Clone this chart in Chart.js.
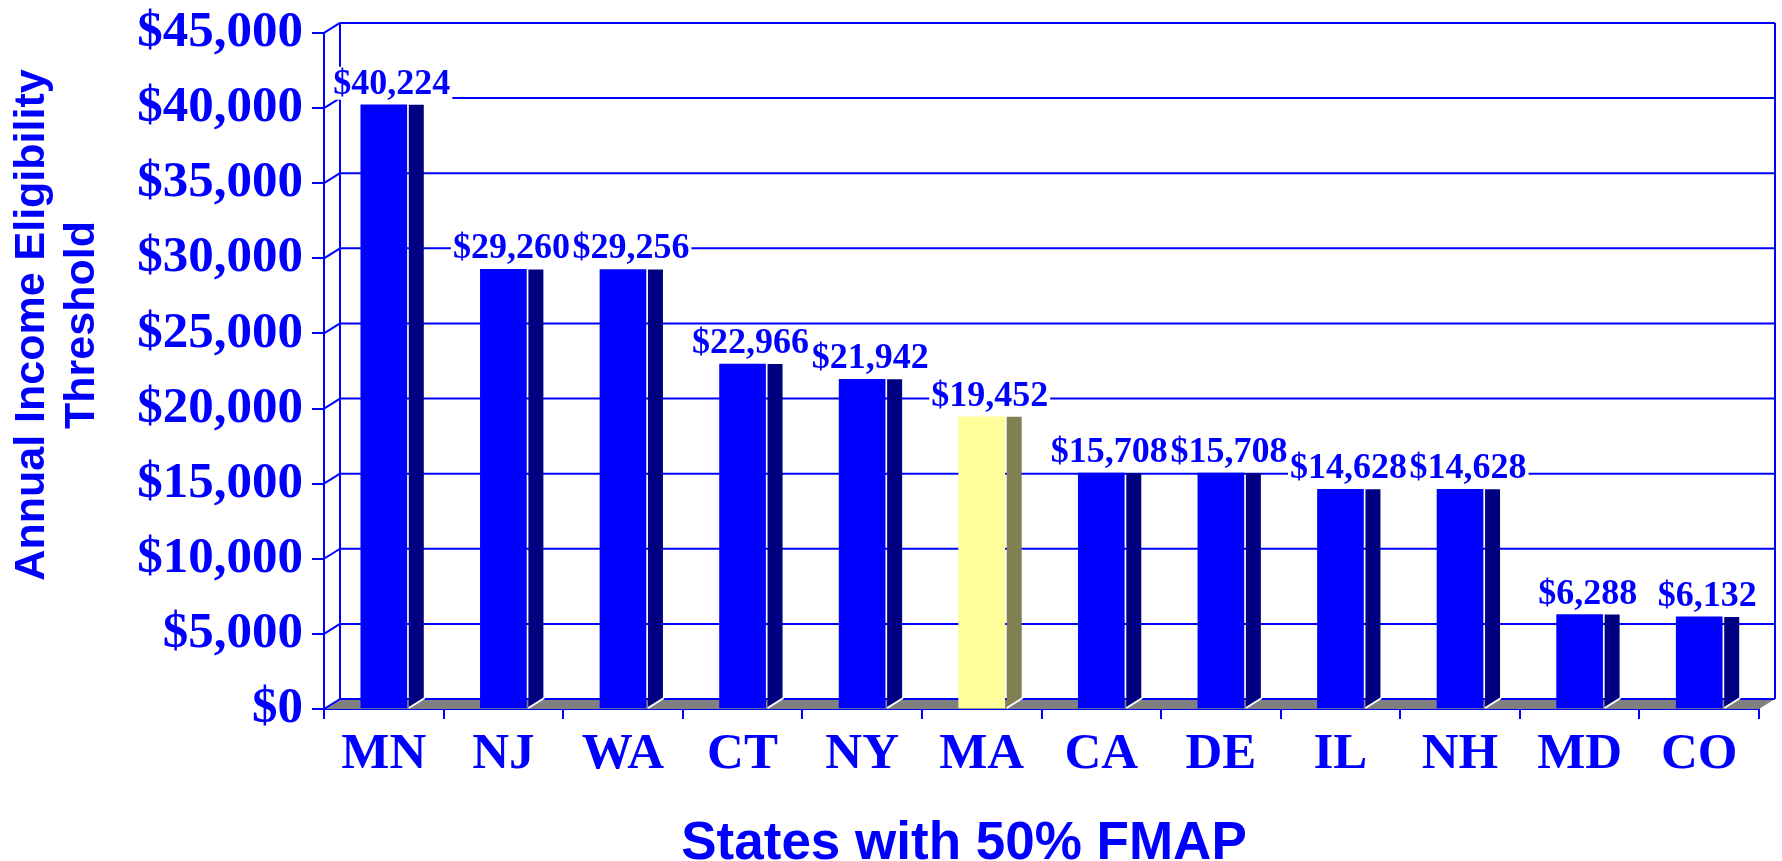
<!DOCTYPE html>
<html>
<head>
<meta charset="utf-8">
<title>States with 50% FMAP</title>
<script src="https://cdn.jsdelivr.net/npm/chart.js@4.4.0/dist/chart.umd.min.js"></script>
<style>
  html, body { margin: 0; padding: 0; background: #fff; }
  canvas { display: block; }
</style>
</head>
<body>
<canvas id="myChart" width="1782" height="861"></canvas>
<script>
const states = ['MN', 'NJ', 'WA', 'CT', 'NY', 'MA', 'CA', 'DE', 'IL', 'NH', 'MD', 'CO'];
const thresholds = [40224, 29260, 29256, 22966, 21942, 19452, 15708, 15708, 14628, 14628, 6288, 6132];
const highlight = 'MA';
const yTicks = [0, 5000, 10000, 15000, 20000, 25000, 30000, 35000, 40000, 45000];
const yTitle = ['Annual Income Eligibility', 'Threshold'];
const xTitle = 'States with 50% FMAP';

const BLUE = '#0000ff';
const serif = '"Liberation Serif", "Times New Roman", serif';
const sans = '"Liberation Sans", Arial, sans-serif';
const depthX = 16, depthY = 10;

const money = v => '$' + v.toLocaleString('en-US');
const faceColors = states.map(s => s === highlight ? '#ffff99' : BLUE);
const sideColors = states.map(s => s === highlight ? '#808050' : '#000080');

function line(ctx, x1, y1, x2, y2) {
  ctx.beginPath();
  ctx.moveTo(x1, y1);
  ctx.lineTo(x2, y2);
  ctx.stroke();
}

// back wall, floor and the little 3d bits the old chart had
const depthPlugin = {
  id: 'depth',
  beforeDatasetsDraw(chart) {
    const {ctx, chartArea: a, scales: {y}} = chart;
    ctx.save();
    ctx.fillStyle = '#808080';
    ctx.beginPath();
    ctx.moveTo(a.left, a.bottom);
    ctx.lineTo(a.right, a.bottom);
    ctx.lineTo(a.right + depthX, a.bottom - depthY);
    ctx.lineTo(a.left + depthX, a.bottom - depthY);
    ctx.closePath();
    ctx.fill();

    ctx.strokeStyle = BLUE;
    ctx.lineWidth = 2;
    yTicks.forEach(v => {
      const py = y.getPixelForValue(v);
      line(ctx, a.left, py, a.left + depthX, py - depthY);
      line(ctx, a.left + depthX, py - depthY, a.right + depthX, py - depthY);
    });
    line(ctx, a.left + depthX, a.top - depthY, a.left + depthX, a.bottom - depthY);
    line(ctx, a.right + depthX, a.top - depthY, a.right + depthX, a.bottom - depthY);
    ctx.restore();
  },
  afterDatasetsDraw(chart) {
    const {ctx} = chart;
    const bars = chart.getDatasetMeta(0).data;
    ctx.save();
    bars.forEach((bar, i) => {
      const x0 = bar.x + bar.width / 2 + 2;
      const x1 = x0 + 15;
      ctx.fillStyle = sideColors[i];
      ctx.beginPath();
      ctx.moveTo(x0, bar.y);
      ctx.lineTo(x1, bar.y);
      ctx.lineTo(x1, bar.base - depthY);
      ctx.lineTo(x0, bar.base);
      ctx.closePath();
      ctx.fill();
      ctx.strokeStyle = '#ffffff';
      ctx.lineWidth = 2;
      line(ctx, x0, bar.base, x1 + 1, bar.base - depthY);
    });

    // value labels, white box so the gridlines stop at the text
    ctx.font = 'bold 36px ' + serif;
    ctx.textAlign = 'center';
    ctx.textBaseline = 'alphabetic';
    bars.forEach((bar, i) => {
      const txt = money(thresholds[i]);
      const cx = bar.x + 8;
      const by = bar.y - 11;
      const w = ctx.measureText(txt).width;
      ctx.fillStyle = '#ffffff';
      ctx.fillRect(cx - w / 2 - 2, by - 27, w + 4, 33);
      ctx.fillStyle = BLUE;
      ctx.fillText(txt, cx, by);
    });
    ctx.restore();
  },
  afterDraw(chart) {
    const {ctx} = chart;
    ctx.save();
    ctx.fillStyle = BLUE;
    ctx.textAlign = 'center';
    ctx.textBaseline = 'middle';
    ctx.font = 'bold 43px ' + sans;
    ctx.translate(0, 325);
    ctx.rotate(-Math.PI / 2);
    ctx.fillText(yTitle[0], 0, 32);
    ctx.fillText(yTitle[1], 0, 82);
    ctx.restore();

    ctx.save();
    ctx.fillStyle = BLUE;
    ctx.textAlign = 'center';
    ctx.textBaseline = 'middle';
    ctx.font = 'bold 53px ' + sans;
    ctx.fillText(xTitle, 964, 844);
    ctx.restore();
  }
};

const ctx = document.getElementById('myChart');
const myChart = new Chart(ctx, {
  type: 'bar',
  data: {
    labels: states,
    datasets: [{
      data: thresholds,
      backgroundColor: faceColors,
      borderWidth: 0,
      barThickness: 46
    }]
  },
  options: {
    responsive: false,
    devicePixelRatio: 1,
    animation: false,
    layout: { padding: { top: 24, right: 23, left: 0, bottom: 0 } },
    plugins: {
      legend: { display: false },
      tooltip: { enabled: false }
    },
    scales: {
      x: {
        afterFit: s => { s.height = 152; },
        grid: { drawOnChartArea: false, color: BLUE, lineWidth: 2, tickLength: 10, offset: true },
        border: { color: BLUE, width: 2 },
        ticks: { color: BLUE, padding: 10, font: { family: serif, size: 51, weight: 'bold', lineHeight: 1 } }
      },
      y: {
        min: 0,
        max: 45000,
        afterFit: s => { s.width = 324; },
        afterBuildTicks: s => { s.ticks = yTicks.map(v => ({ value: v })); },
        grid: { drawOnChartArea: false, color: BLUE, lineWidth: 2, tickLength: 12 },
        border: { color: BLUE, width: 2 },
        ticks: {
          color: BLUE,
          padding: 9,
          font: { family: serif, size: 51, weight: 'bold', lineHeight: 0.94 },
          callback: value => money(value)
        }
      }
    }
  },
  plugins: [depthPlugin]
});
</script>
</body>
</html>
